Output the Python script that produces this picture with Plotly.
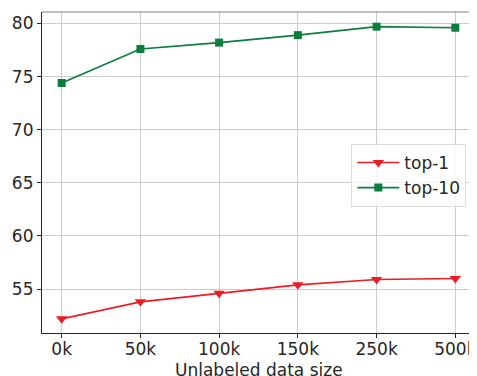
import plotly.graph_objects as go

categories = ["0k", "50k", "100k", "150k", "250k", "500k"]
top1 = [52.2, 53.8, 54.6, 55.4, 55.9, 56.0]
top10 = [74.4, 77.6, 78.2, 78.9, 79.7, 79.6]
x_title = "Unlabeled data size"

RED = "#ec1c24"
GREEN = "#0b7d3c"
FONT = "DejaVu Sans"

fig = go.Figure()
fig.add_trace(go.Scatter(x=categories, y=top1, name="top-1", mode="lines+markers",
                         line=dict(color=RED, width=1.6),
                         marker=dict(symbol="triangle-down", size=10, color=RED)))
fig.add_trace(go.Scatter(x=categories, y=top10, name="top-10", mode="lines+markers",
                         line=dict(color=GREEN, width=1.6),
                         marker=dict(symbol="square", size=8, color=GREEN)))

# page body has an 8px default margin, so the figure is offset by 8px
fig.update_layout(
    width=469, height=368,
    margin=dict(l=33.5, r=1.5, t=4, b=43),
    paper_bgcolor="white", plot_bgcolor="white",
    font=dict(family=FONT, size=17, color="#262626"),
    legend=dict(x=0.98, y=0.589, xanchor="right", yanchor="top",
                bgcolor="rgba(255,255,255,0.8)", bordercolor="#dddddd", borderwidth=1,
                font=dict(size=17), tracegroupgap=0, itemwidth=42),
    showlegend=True,
)
fig.update_xaxes(type="category", range=[-0.25, 5.25], automargin=False,
                 showgrid=True, gridcolor="#cccccc", gridwidth=1,
                 showline=True, linecolor="#262626", linewidth=1.2,
                 ticks="outside", ticklen=4, tickcolor="#262626", ticklabelstandoff=-4)
fig.update_yaxes(range=[50.87, 81.08], tickvals=[55, 60, 65, 70, 75, 80], automargin=False,
                 showgrid=True, gridcolor="#cccccc", gridwidth=1,
                 showline=True, linecolor="#262626", linewidth=1.2,
                 ticks="outside", ticklen=4, tickcolor="#262626", zeroline=False)
fig.add_annotation(text=x_title, xref="paper", yref="paper", x=0.5, y=0,
                   xanchor="center", yanchor="top", yshift=-25, showarrow=False,
                   font=dict(size=17, color="#262626"))
fig.add_shape(type="line", xref="paper", yref="paper", x0=0, x1=1, y0=1, y1=1,
              line=dict(color="#808080", width=1.2))
fig.add_shape(type="line", xref="paper", yref="paper", x0=1, x1=1, y0=0, y1=1,
              line=dict(color="#808080", width=1.2))

fig.write_html("out.html")
